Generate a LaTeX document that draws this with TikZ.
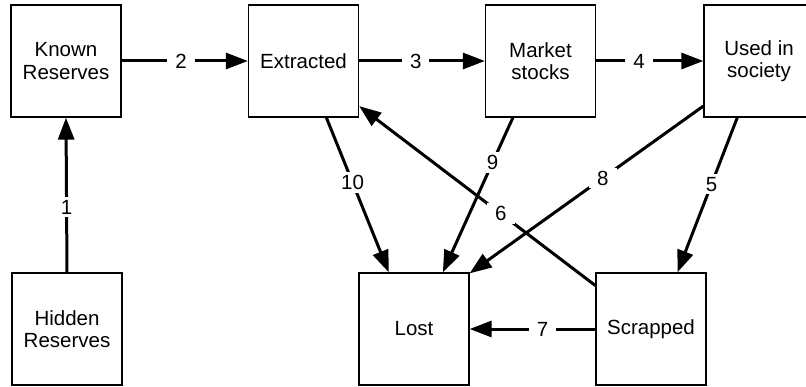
\documentclass[tikz,border=0pt]{standalone}
\usepackage{fontspec}
\setmainfont{Liberation Sans}
\usetikzlibrary{arrows.meta}

\tikzset{
  stock/.style={draw, line width=1.3pt, minimum width=110pt, minimum height=112pt,
    align=center, inner sep=0pt, font=\fontsize{20.5}{22.5}\selectfont},
  flow/.style={line width=3pt, -{Triangle[length=22pt,width=16pt]}},
  flownum/.style={fill=white, inner xsep=8pt, inner ysep=3pt,
    font=\fontsize{20.5}{22.5}\selectfont}
}

\begin{document}
\begin{tikzpicture}[x=1pt,y=1pt]
        % The frame
        \clip (0,0) rectangle (806,386);
        % The stocks, top row
        \node[stock] (known) at (66,325) {Known\\Reserves};
        \node[stock] (extracted) at (303.5,325) {Extracted};
        \node[stock] (market) at (540.5,325) {Market\\stocks};
        \node[stock] (used) at (759,325) {Used in\\society};
        % The stocks, bottom row
        \node[stock] (hidden) at (67,57) {Hidden\\Reserves};
        \node[stock] (lost) at (414,57) {Lost};
        \node[stock] (scrapped) at (651,57) {Scrapped};
        % The flows
        \draw[flow] (hidden.north) -- node[flownum,pos=0.42] {1} (known.south);
        \draw[flow] (known.east) -- node[flownum,pos=0.47] {2} (extracted.west);
        \draw[flow] (extracted.east) -- node[flownum,pos=0.45] {3} (market.west);
        \draw[flow] (market.east) -- node[flownum,pos=0.4] {4} (used.west);
        \draw[flow] (used.249) -- node[flownum,pos=0.43] {5} (scrapped.65);
        \draw[flow] (scrapped.142) -- node[flownum,pos=0.4] {6} (extracted.321);
        \draw[flow] (scrapped.west) -- node[flownum,pos=0.42] {7} (lost.east);
        \draw[flow] (used.219) -- node[flownum,pos=0.43] {8} (lost.45);
        \draw[flow] (market.244) -- node[flownum,pos=0.29] {9} (lost.63);
        \draw[flow] (extracted.292) -- node[flownum,pos=0.42] {10} (lost.114);
    \end{tikzpicture}
\end{document}
